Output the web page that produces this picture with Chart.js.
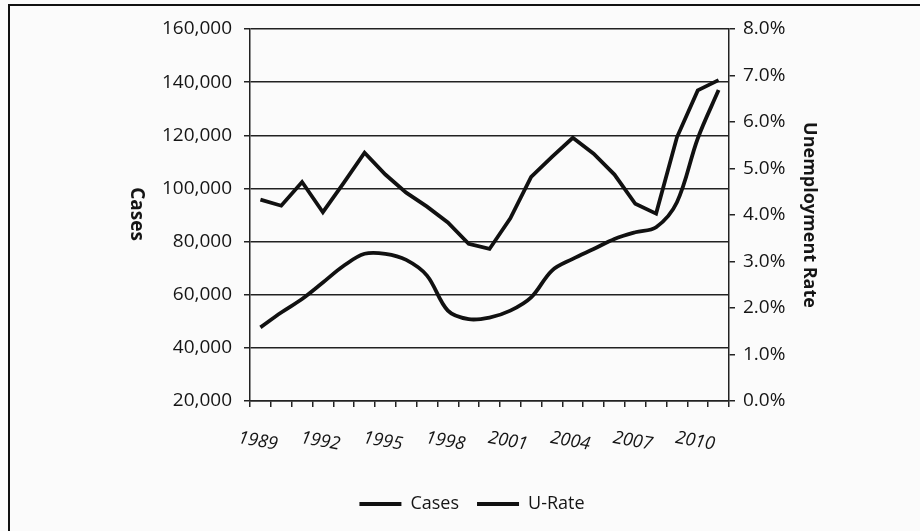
<!DOCTYPE html>
<html>
<head>
<meta charset="utf-8">
<script src="https://cdn.jsdelivr.net/npm/chart.js@4"></script>
<style>
  html, body { margin: 0; padding: 0; background: #fbfbfb; }
  #wrap { position: relative; width: 920px; height: 531px; overflow: hidden; }
  #frame { position: absolute; left: 8px; top: 4px; width: 940px; height: 560px;
           border-left: 2px solid #111; border-top: 2px solid #111; }
  canvas { position: absolute; left: 0; top: 0; }
</style>
</head>
<body>
<div id="wrap">
  <div id="frame"></div>
  <canvas id="grafico" width="920" height="531"></canvas>
</div>
<script>
// Dados
const anos = ["1989", "1990", "1991", "1992", "1993", "1994", "1995", "1996", "1997", "1998", "1999", "2000",
              "2001", "2002", "2003", "2004", "2005", "2006", "2007", "2008", "2009", "2010", "2011"];
const casos = [47700, 53300, 58400, 64600, 70900, 75400, 75400, 73100, 67200, 54000, 50800, 51400,
               54000, 59000, 69100, 73500, 77200, 81000, 83500, 85400, 94800, 118800, 137000];
const taxaDesemprego = [4.33, 4.20, 4.71, 4.06, 4.69, 5.34, 4.87, 4.48, 4.18, 3.84, 3.38, 3.27,
                        3.93, 4.82, 5.25, 5.66, 5.32, 4.87, 4.24, 4.03, 5.67, 6.68, 6.90];
const rotulosAnos = ["1989", "1992", "1995", "1998", "2001", "2004", "2007", "2010"];

document.addEventListener("DOMContentLoaded", function () {
    const fonte = "'Open Sans', sans-serif";
    const corTexto = "#151515";

    // título do eixo esquerdo, lido de cima para baixo
    const tituloEsquerdo = {
        id: "tituloEsquerdo",
        afterDraw(chart) {
            const ctx = chart.ctx;
            ctx.save();
            ctx.translate(136, 214);
            ctx.rotate(Math.PI / 2);
            ctx.font = "bold 19px " + fonte;
            ctx.fillStyle = corTexto;
            ctx.textAlign = "center";
            ctx.textBaseline = "middle";
            ctx.fillText("Cases", 0, 0);
            ctx.restore();
        }
    };

    const ctx = document.getElementById("grafico").getContext("2d");
    new Chart(ctx, {
        type: "line",
        data: {
            labels: anos,
            datasets: [{
                label: "Cases",
                data: casos,
                yAxisID: "y",
                borderColor: "#111",
                backgroundColor: "#111",
                borderWidth: 3.8,
                pointRadius: 0,
                tension: 0.35,
            }, {
                label: "U-Rate",
                data: taxaDesemprego,
                yAxisID: "y1",
                borderColor: "#111",
                backgroundColor: "#111",
                borderWidth: 3.8,
                pointRadius: 0,
                tension: 0,
            }],
        },
        options: {
            responsive: false,
            animation: false,
            layout: { padding: { top: 29, left: 24, right: 0, bottom: 8 } },
            plugins: {
                legend: {
                    position: "bottom",
                    labels: {
                        usePointStyle: true,
                        pointStyle: "line",
                        pointStyleWidth: 42,
                        boxHeight: 12,
                        padding: 18,
                        color: corTexto,
                        font: { family: fonte, size: 18 },
                    },
                },
                tooltip: { enabled: false },
            },
            scales: {
                x: {
                    offset: true,
                    grid: { offset: true, drawOnChartArea: false, color: "#222", lineWidth: 1.5, tickLength: 6 },
                    border: { color: "#222", width: 1.5 },
                    ticks: {
                        autoSkip: false,
                        minRotation: -10,
                        maxRotation: -10,
                        padding: 27,
                        labelOffset: 17,
                        color: corTexto,
                        font: { family: fonte, size: 18, style: "italic" },
                        callback: function (valor) {
                            const rotulo = this.getLabelForValue(valor);
                            return rotulosAnos.includes(rotulo) ? rotulo : "";
                        },
                    },
                    afterFit: function (escala) { escala.height = 76; },
                },
                y: {
                    position: "left",
                    min: 20000,
                    max: 160000,
                    grid: { color: "#222", lineWidth: 1.5, tickLength: 6 },
                    border: { color: "#222", width: 1.5 },
                    ticks: {
                        stepSize: 20000,
                        padding: 12,
                        color: corTexto,
                        font: { family: fonte, size: 19 },
                        callback: function (v) { return v.toLocaleString("en-US"); },
                    },
                    afterFit: function (escala) { escala.width = 226; },
                },
                y1: {
                    position: "right",
                    min: 0,
                    max: 8,
                    grid: { drawOnChartArea: false, color: "#222", lineWidth: 1.5, tickLength: 6 },
                    border: { color: "#222", width: 1.5 },
                    title: {
                        display: true,
                        text: "Unemployment Rate",
                        color: corTexto,
                        font: { family: fonte, size: 18, weight: "bold" },
                        padding: { top: 100, bottom: 0 },
                    },
                    ticks: {
                        stepSize: 1,
                        padding: 8,
                        color: corTexto,
                        font: { family: fonte, size: 19 },
                        callback: function (v) { return v.toFixed(1) + "%"; },
                    },
                    afterFit: function (escala) { escala.width = 191; },
                },
            },
        },
        plugins: [tituloEsquerdo],
    });
});
</script>
</body>
</html>
